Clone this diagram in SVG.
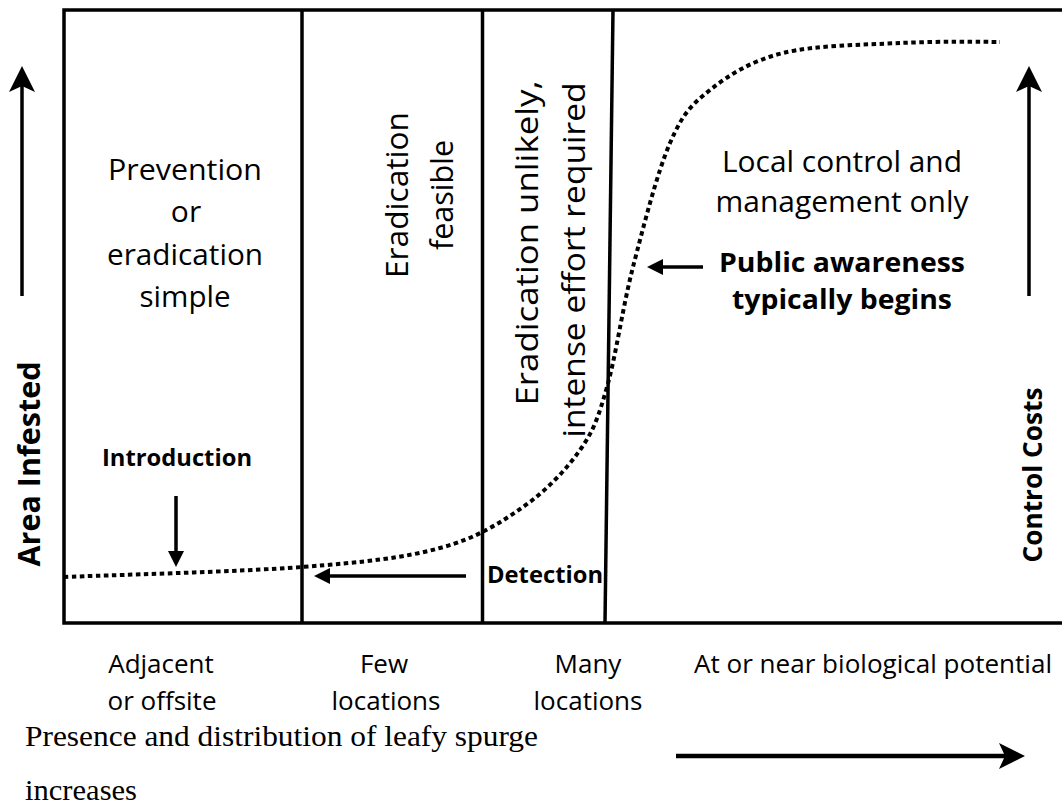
<svg xmlns="http://www.w3.org/2000/svg" width="1062" height="808" viewBox="0 0 1062 808">
<style>
.t{font-family:"Open Sans","Noto Sans","DejaVu Sans",sans-serif;fill:#000}
.b{font-weight:bold}
.s{font-family:"Liberation Serif","Times New Roman",serif;fill:#000}
.ln{stroke:#000;stroke-width:3.5;fill:none}
.ax{stroke:#000;stroke-width:3.5;fill:none}
</style>
<defs>
<marker id="big" markerUnits="userSpaceOnUse" markerWidth="26" markerHeight="26" viewBox="0 0 26 26" refX="14" refY="13" orient="auto">
<path d="M0,0 L26,13 L0,26 L6,13 Z" fill="#000"/>
</marker>
<marker id="small" markerUnits="userSpaceOnUse" markerWidth="16" markerHeight="16" viewBox="0 0 16 16" refX="6" refY="8" orient="auto">
<path d="M0,0 L16,8 L0,16 Z" fill="#000"/>
</marker>
</defs>
<rect width="1062" height="808" fill="#fff"/>

<g id="frame">
<path class="ax" d="M1062,10 L64,10 L64,623 L1062,623"/>
<line class="ln" x1="302" y1="10" x2="302" y2="623"/>
<line class="ln" x1="482.5" y1="10" x2="482.5" y2="623"/>
<line class="ln" x1="613" y1="10" x2="605" y2="623"/>
</g>

<g id="curve">
<path d="M64,577 C103.7,575.3 239.3,571.8 302,567 C364.7,562.2 403.2,558 440,548 C476.8,538 499.7,523.3 523,507 C546.3,490.7 566,470 580,450 C594,430 598.2,417.5 607,387 C615.8,356.5 622.5,307.7 633,267 C643.5,226.3 657.2,172.5 670,143 C682.8,113.5 691.2,105 710,90 C728.8,75 751.3,60.8 783,53 C814.7,45.2 863.8,44.8 900,43 C936.2,41.2 983.3,41.8 1000,42" fill="none" stroke="#000" stroke-width="4" stroke-dasharray="4.5 3.5"/>
</g>

<g id="connectors">
<line class="ln" x1="22" y1="296" x2="22" y2="78" marker-end="url(#big)"/>
<line class="ln" x1="1029" y1="296" x2="1029" y2="78" marker-end="url(#big)"/>
<line class="ln" x1="176" y1="496" x2="176" y2="557" marker-end="url(#small)"/>
<line class="ln" x1="466" y1="576" x2="324" y2="576" marker-end="url(#small)"/>
<line class="ln" x1="703" y1="267" x2="657" y2="267" marker-end="url(#small)"/>
<line x1="676" y1="756" x2="1013" y2="756" stroke="#000" stroke-width="4.5" marker-end="url(#big)"/>
</g>

<g id="zone-prevention">
<text class="t" font-size="30" text-anchor="middle" x="185" y="180" textLength="154" lengthAdjust="spacingAndGlyphs">Prevention</text>
<text class="t" font-size="30" text-anchor="middle" x="186" y="222">or</text>
<text class="t" font-size="30" text-anchor="middle" x="185" y="265" textLength="156" lengthAdjust="spacingAndGlyphs">eradication</text>
<text class="t" font-size="30" text-anchor="middle" x="185" y="307" textLength="91" lengthAdjust="spacingAndGlyphs">simple</text>
</g>

<g id="zone-feasible">
<text class="t" font-size="31.5" text-anchor="middle" transform="translate(408,195) rotate(-90)" textLength="166" lengthAdjust="spacingAndGlyphs">Eradication</text>
<text class="t" font-size="31.5" text-anchor="middle" transform="translate(453,195) rotate(-90)" textLength="110" lengthAdjust="spacingAndGlyphs">feasible</text>
</g>

<g id="zone-unlikely">
<text class="t" font-size="31.5" text-anchor="middle" transform="translate(538,243) rotate(-90)" textLength="325" lengthAdjust="spacingAndGlyphs">Eradication unlikely,</text>
<text class="t" font-size="31.5" text-anchor="middle" transform="translate(585,260) rotate(-90)" textLength="355" lengthAdjust="spacingAndGlyphs">intense effort required</text>
</g>

<g id="zone-local">
<text class="t" font-size="30" text-anchor="middle" x="842" y="172" textLength="240" lengthAdjust="spacingAndGlyphs">Local control and</text>
<text class="t" font-size="30" text-anchor="middle" x="842" y="212" textLength="253" lengthAdjust="spacingAndGlyphs">management only</text>
</g>

<g id="public-awareness">
<text class="t b" font-size="26.5" text-anchor="middle" x="842" y="272" textLength="246" lengthAdjust="spacingAndGlyphs">Public awareness</text>
<text class="t b" font-size="26.5" text-anchor="middle" x="842" y="309" textLength="220" lengthAdjust="spacingAndGlyphs">typically begins</text>
</g>

<g id="introduction">
<text class="t b" font-size="23" text-anchor="middle" x="177" y="466" textLength="150" lengthAdjust="spacingAndGlyphs">Introduction</text>
</g>

<g id="detection">
<text class="t b" font-size="23" x="487" y="583" textLength="116" lengthAdjust="spacingAndGlyphs">Detection</text>
</g>

<g id="axis-area">
<text class="t b" font-size="30" text-anchor="middle" transform="translate(40,464) rotate(-90)" textLength="205" lengthAdjust="spacingAndGlyphs">Area Infested</text>
</g>

<g id="axis-cost">
<text class="t b" font-size="27" text-anchor="middle" transform="translate(1042,475) rotate(-90)" textLength="175" lengthAdjust="spacingAndGlyphs">Control Costs</text>
</g>

<g id="x-labels">
<text class="t" font-size="26" text-anchor="middle" x="161" y="673">Adjacent</text>
<text class="t" font-size="26" text-anchor="middle" x="162" y="710">or offsite</text>
<text class="t" font-size="26" text-anchor="middle" x="384" y="673">Few</text>
<text class="t" font-size="26" text-anchor="middle" x="386" y="710">locations</text>
<text class="t" font-size="26" text-anchor="middle" x="588" y="673">Many</text>
<text class="t" font-size="26" text-anchor="middle" x="588" y="710">locations</text>
<text class="t" font-size="26" text-anchor="middle" x="873" y="673" textLength="358" lengthAdjust="spacingAndGlyphs">At or near biological potential</text>
</g>

<g id="x-title">
<text class="s" font-size="29" x="25" y="746" textLength="513" lengthAdjust="spacingAndGlyphs">Presence and distribution of leafy spurge</text>
<text class="s" font-size="29" x="25" y="800" textLength="112" lengthAdjust="spacingAndGlyphs">increases</text>
</g>
</svg>
